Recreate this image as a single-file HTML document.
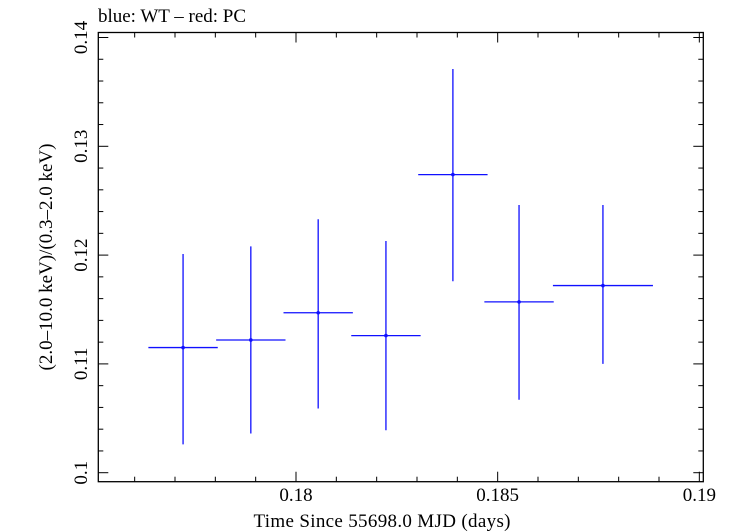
<!DOCTYPE html>
<html><head><meta charset="utf-8"><style>
body{margin:0;background:#fff;width:732px;height:532px;overflow:hidden}
svg{display:block;font-family:"Liberation Serif",serif}
</style></head><body>
<svg id="chart" width="732" height="532" viewBox="0 0 732 532">
<text x="98" y="22" font-size="19" textLength="148">blue: WT – red: PC</text>
<rect x="98.3" y="32.5" width="605" height="449.2" fill="none" stroke="#000" stroke-width="1.3"/>
<g id="axes"></g>
<g id="series"></g>
<text x="382" y="527" font-size="19" text-anchor="middle" textLength="257">Time Since 55698.0 MJD (days)</text>
<text transform="translate(52,257) rotate(-90)" font-size="19" text-anchor="middle">(2.0–10.0 keV)/(0.3–2.0 keV)</text>
</svg>
<script>
const xCenters=[0.17720,0.17888,0.18055,0.18223,0.18389,0.18553,0.18761];
const xHalfWidths=[0.00086,0.00086,0.00086,0.00086,0.00086,0.00086,0.00124];
const yValues=[0.1115,0.1122,0.1147,0.1126,0.1274,0.1157,0.1172];
const yUpper=[0.1201,0.1208,0.1233,0.1213,0.1371,0.1246,0.1246];
const yLower=[0.1026,0.1036,0.1059,0.1039,0.1176,0.1067,0.1100];
const xTickLabels=["0.18","0.185","0.19"];
const yTickLabels=["0.1","0.11","0.12","0.13","0.14"];
const L=98.3,R=703.3,T=32.5,B=481.7;
const xs=v=>296+(v-0.18)*40333;
const ys=v=>472.7-(v-0.1)*10880;
const NS="http://www.w3.org/2000/svg";
function mk(tag,attrs,parent){const e=document.createElementNS(NS,tag);for(const k in attrs)e.setAttribute(k,attrs[k]);parent.appendChild(e);return e;}
const ax=document.getElementById('axes');
for(let i=175;i<=190;i++){const v=i/1000;const x=xs(v);if(x<L||x>R+1)continue;const maj=i%5===0;const len=maj?10:5;
 const t1=mk('line',{x1:x,x2:x,y1:B,y2:B-len,stroke:'#000','stroke-width':1},ax);
 
 
 const t2=mk('line',{x1:x,x2:x,y1:T,y2:T+len,stroke:'#000','stroke-width':1},ax);
 
 
}
xTickLabels.forEach(s=>{const t=mk('text',{x:xs(parseFloat(s)),y:501,'font-size':19,'text-anchor':'middle'},ax);t.textContent=s;
 
 });
for(let i=50;i<=70;i++){const v=i/500;const y=ys(v);if(y<T-1||y>B)continue;const maj=i%5===0;const len=maj?10:5;
 const t1=mk('line',{x1:L,x2:L+len,y1:y,y2:y,stroke:'#000','stroke-width':1},ax);
 
 
 const t2=mk('line',{x1:R,x2:R-len,y1:y,y2:y,stroke:'#000','stroke-width':1},ax);
 
 
}
yTickLabels.forEach(s=>{const y=ys(parseFloat(s));const t=mk('text',{transform:`translate(87,${y}) rotate(-90)`,'font-size':19,'text-anchor':'middle'},ax);t.textContent=s;
 
 });
const se=document.getElementById('series');
xCenters.forEach((c,i)=>{
 const g=mk('g',{stroke:'#1010ff','stroke-width':1.3},se);
 
 
 mk('line',{x1:xs(c-xHalfWidths[i]),x2:xs(c+xHalfWidths[i]),y1:ys(yValues[i]),y2:ys(yValues[i])},g);
 mk('line',{x1:xs(c),x2:xs(c),y1:ys(yUpper[i]),y2:ys(yLower[i])},g);
 mk('circle',{cx:xs(c),cy:ys(yValues[i]),r:1.8,fill:'#1010ff',stroke:'none'},g);
});
</script>
</body></html>
